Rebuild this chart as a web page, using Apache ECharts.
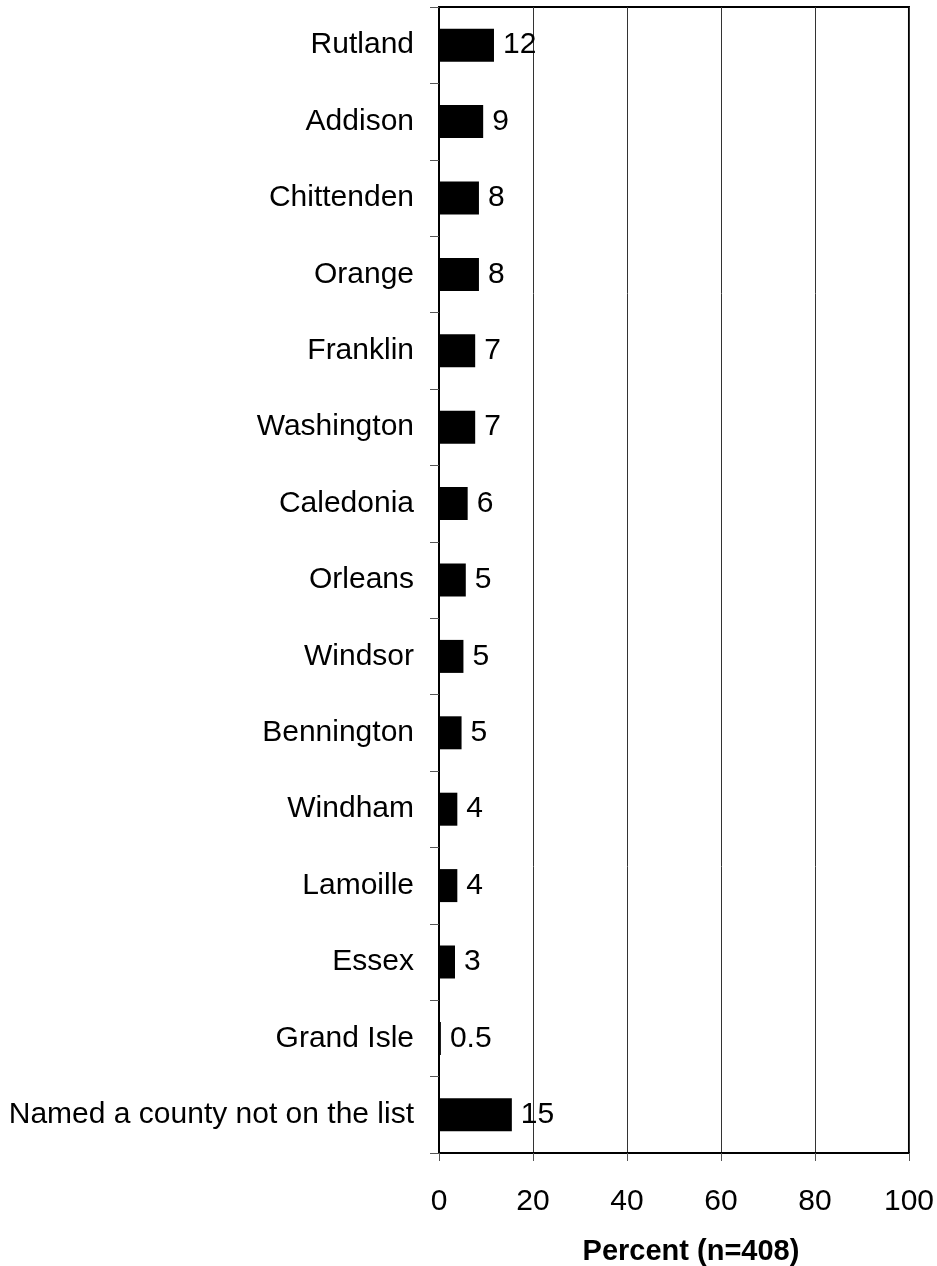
<!DOCTYPE html>
<html>
<head>
<meta charset="utf-8">
<script src="https://cdn.jsdelivr.net/npm/echarts@6/dist/echarts.min.js"></script>
<style>
html,body{margin:0;padding:0;background:#fff;}
#chart{width:937px;height:1266px;}
</style>
</head>
<body>
<div id="chart"></div>
<script>
var categories = ["Rutland","Addison","Chittenden","Orange","Franklin","Washington","Caledonia","Orleans","Windsor","Bennington","Windham","Lamoille","Essex","Grand Isle","Named a county not on the list"];
var values = [11.7, 9.4, 8.5, 8.5, 7.7, 7.7, 6.1, 5.7, 5.2, 4.8, 3.9, 3.9, 3.4, 0.4, 15.5];
var valueLabels = ["12","9","8","8","7","7","6","5","5","5","4","4","3","0.5","15"];
var xTicks = [0, 20, 40, 60, 80, 100];
var axisTitle = "Percent (n=408)";

var FONT = "'Liberation Sans', Arial, sans-serif";
var chart = echarts.init(document.getElementById('chart'), null, {renderer:'canvas'});
chart.setOption({
  backgroundColor: '#ffffff',
  animation: false,
  title: {
    text: axisTitle,
    left: 686, top: 1232, textAlign: 'center',
    textStyle: {fontFamily: FONT, fontSize: 29, fontWeight: 'bold', color: '#000'}
  },
  grid: {left: 439, right: 28, top: 7, bottom: 113, show: true, borderColor: '#000', borderWidth: 2, backgroundColor: 'transparent'},
  xAxis: {
    type: 'value', min: xTicks[0], max: xTicks[xTicks.length-1], interval: 20,
    axisLine: {show: true, lineStyle: {color: '#000', width: 2}},
    axisTick: {show: true, length: 8, lineStyle: {color: '#555', width: 1}},
    axisLabel: {margin: 34, fontFamily: FONT, fontSize: 30, color: '#000'},
    splitLine: {show: true, lineStyle: {color: '#333', width: 1}}
  },
  yAxis: {
    type: 'category', data: categories, inverse: true,
    axisLine: {show: true, lineStyle: {color: '#000', width: 2}},
    axisTick: {show: true, length: 9, alignWithLabel: false, lineStyle: {color: '#555', width: 1}},
    axisLabel: {margin: 25, fontFamily: FONT, fontSize: 30, color: '#000'},
    splitLine: {show: false}
  },
  series: [{
    type: 'bar', data: values, barWidth: 33,
    itemStyle: {color: '#000'},
    label: {
      show: true, position: 'right', distance: 9,
      fontFamily: FONT, fontSize: 30, color: '#000',
      formatter: function(p){ return valueLabels[p.dataIndex]; }
    }
  }]
});
</script>
</body>
</html>
